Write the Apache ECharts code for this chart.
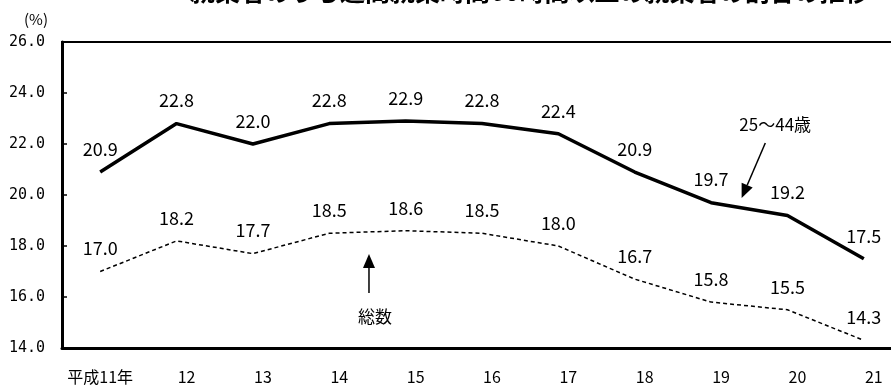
<!DOCTYPE html>
<html><head><meta charset="utf-8">
<script src="https://cdn.jsdelivr.net/npm/echarts@6/dist/echarts.min.js"></script>
<style>html,body{margin:0;padding:0;background:#fff}#c{width:891px;height:385px}</style>
</head><body><div id="c"></div>
<script>
const categories = ['平成11年','12','13','14','15','16','17','18','19','20','21'];
const age25to44 = [20.9, 22.8, 22.0, 22.8, 22.9, 22.8, 22.4, 20.9, 19.7, 19.2, 17.5];
const total = [17.0, 18.2, 17.7, 18.5, 18.6, 18.5, 18.0, 16.7, 15.8, 15.5, 14.3];
const yTicks = {min: 14, max: 26, interval: 2};
const titleText = '就業者のうち週間就業時間60時間以上の就業者の割合の推移';
// annotation anchors in data units (category index, value)
const annAge = {text: '25〜44歳', label: [8.84, 22.75], from: [8.71, 22.04], to: [8.40, 19.88]};
const annTotal = {text: '総数', label: [3.60, 15.22], from: [3.52, 16.16], to: [3.52, 17.69]};

const FONT = '"Noto Sans CJK JP", sans-serif';
const chart = echarts.init(document.getElementById('c'));
const labelCfg = {
  show: true, position: 'top', distance: 14, color: '#000',
  fontFamily: FONT, fontSize: 18, formatter: p => p.value.toFixed(1)
};
chart.setOption({
  animation: false,
  grid: {left: 62, top: 42, bottom: 37, right: -11, outerBoundsMode: 'none', containLabel: false,
    show: true, borderColor: '#000', borderWidth: 2},
  xAxis: {
    type: 'category', data: categories, boundaryGap: true,
    axisLine: {lineStyle: {color: '#000', width: 3}},
    axisTick: {show: false},
    axisLabel: {
      interval: 0, margin: 21, color: '#000', fontFamily: FONT, fontSize: 16,
      formatter: (v, i) => i === 0 ? v : '{s|' + v + '}',
      rich: {s: {padding: [0, 0, 0, 20], fontFamily: FONT, fontSize: 16, color: '#000'}}
    }
  },
  yAxis: {
    type: 'value', min: yTicks.min, max: yTicks.max, interval: yTicks.interval,
    axisLine: {show: true, lineStyle: {color: '#000', width: 3}},
    axisTick: {show: true, inside: true, length: 5, lineStyle: {color: '#000', width: 1.5}},
    splitLine: {show: false},
    axisLabel: {margin: 17, color: '#000', fontFamily: '"DejaVu Sans Mono", monospace', fontSize: 15,
      formatter: v => v.toFixed(1)}
  },
  series: [
    {name: '25〜44歳', type: 'line', data: age25to44, symbol: 'circle', symbolSize: 0, showSymbol: true,
      lineStyle: {color: '#000', width: 3.5}, itemStyle: {color: '#000'}, label: labelCfg, z: 3},
    {name: '総数', type: 'line', data: total, symbol: 'circle', symbolSize: 0, showSymbol: true,
      lineStyle: {color: '#000', width: 1.5, type: [4, 3]}, itemStyle: {color: '#000'}, label: labelCfg, z: 2}
  ]
});

function px(pt) {
  const a = chart.convertToPixel({gridIndex: 0}, [0, pt[1]]);
  const b = chart.convertToPixel({gridIndex: 0}, [1, pt[1]]);
  return [a[0] + (b[0] - a[0]) * pt[0], a[1]];
}
function arrow(ann) {
  const f = px(ann.from), t = px(ann.to), l = px(ann.label);
  const ang = Math.atan2(t[1] - f[1], t[0] - f[0]);
  const hl = 14, hw = 6;
  const bx = t[0] - hl * Math.cos(ang), by = t[1] - hl * Math.sin(ang);
  const nx = -Math.sin(ang) * hw, ny = Math.cos(ang) * hw;
  return [
    {type: 'line', shape: {x1: f[0], y1: f[1], x2: bx, y2: by}, style: {stroke: '#000', lineWidth: 1.5}},
    {type: 'polygon', shape: {points: [[t[0], t[1]], [bx + nx, by + ny], [bx - nx, by - ny]]}, style: {fill: '#000'}},
    {type: 'text', x: l[0], y: l[1], style: {text: ann.text, fill: '#000', font: '17px ' + FONT, textAlign: 'center', textVerticalAlign: 'middle'}}
  ];
}
chart.setOption({
  graphic: [
    {type: 'text', x: 190, y: -21, style: {text: titleText, fill: '#000', font: 'bold 25px ' + FONT, textVerticalAlign: 'top'}},
    {type: 'text', x: 36, y: 19, style: {text: '(%)', fill: '#000', font: '15px ' + FONT, textAlign: 'center', textVerticalAlign: 'middle'}},
    ...arrow(annAge), ...arrow(annTotal)
  ]
});
</script></body></html>
